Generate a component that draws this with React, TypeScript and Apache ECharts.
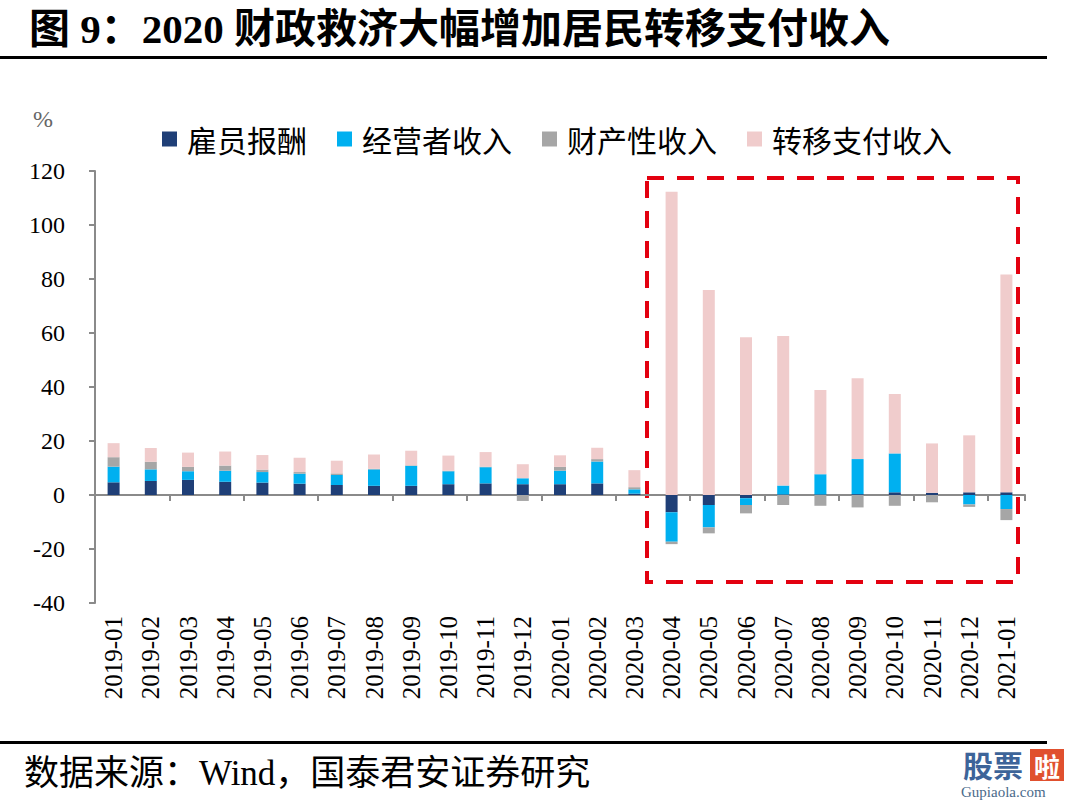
import React, { useEffect, useRef } from "react";
import * as echarts from "echarts";

const categories = [
  "2019-01", "2019-02", "2019-03", "2019-04", "2019-05", "2019-06", "2019-07", "2019-08",
  "2019-09", "2019-10", "2019-11", "2019-12", "2020-01", "2020-02", "2020-03", "2020-04",
  "2020-05", "2020-06", "2020-07", "2020-08", "2020-09", "2020-10", "2020-11", "2020-12", "2021-01",
];
const employeeComp = [4.7, 5.2, 5.6, 4.9, 4.6, 4.2, 3.7, 3.4, 3.4, 4.0, 4.3, 4.0, 4.0, 4.3, 0.5, -6.4, -3.7, -1.2, 0.2, 0.2, 0.3, 1.0, 0.8, 1.0, 1.0];
const businessIncome = [5.8, 4.3, 3.2, 4.1, 3.9, 3.7, 3.7, 6.1, 7.4, 4.8, 6.0, 2.2, 5.0, 8.1, 1.6, -10.9, -8.3, -2.5, 3.3, 7.5, 13.0, 14.4, 0, -3.5, -5.2];
const propertyIncome = [3.5, 2.8, 1.6, 1.9, 0.9, 0.6, 0.6, 0.2, 0.2, 0.2, 0.2, -2.2, 1.4, 0.9, 0.8, -0.9, -2.2, -3.1, -3.7, -4.0, -4.6, -4.0, -2.7, -0.9, -4.1];
const transferIncome = [5.2, 5.1, 5.3, 5.2, 5.4, 5.3, 4.7, 5.3, 5.4, 5.6, 5.4, 5.2, 4.3, 4.2, 6.3, 112.3, 75.9, 58.4, 55.4, 31.2, 29.9, 22.0, 18.3, 21.1, 80.7];
const seriesNames = ["雇员报酬", "经营者收入", "财产性收入", "转移支付收入"];
const seriesColors = ["#1F3F77", "#00B0F0", "#A6A6A6", "#F0CCCC"];

const titleText = "图 9：2020 财政救济大幅增加居民转移支付收入";
const sourceText = "数据来源：Wind，国泰君安证券研究";

const SERIF = "Liberation Serif, Noto Sans CJK SC, serif";
const NUM = "Liberation Serif";
const CJK = "Noto Sans CJK SC, sans-serif";

export default function App() {
  const ref = useRef<HTMLDivElement>(null);
  useEffect(() => {
    if (!ref.current) return;
    const chart = echarts.init(ref.current, null, { renderer: "svg" });
    const data = [employeeComp, businessIncome, propertyIncome, transferIncome];
    chart.setOption({
      animation: false,
      backgroundColor: "#fff",
      title: {
        text: titleText,
        left: 24,
        top: 3,
        textStyle: { fontSize: 41, fontWeight: "bold", fontFamily: SERIF, color: "#000" },
      },
      legend: {
        data: seriesNames,
        left: 157,
        top: 119,
        icon: "rect",
        itemWidth: 15,
        itemHeight: 15,
        itemGap: 30,
        textStyle: { fontSize: 30, fontFamily: CJK, color: "#000", padding: [0, 0, 0, 5] },
      },
      grid: { left: 95, right: 55, top: 171, bottom: 198 },
      xAxis: [
        {
          type: "category",
          data: categories,
          axisLine: { onZero: true, lineStyle: { color: "#8a8a8a", width: 2 } },
          axisTick: { show: true, length: 6, lineStyle: { color: "#8a8a8a", width: 2 } },
          axisLabel: { show: false },
        },
        {
          type: "category",
          data: categories,
          position: "bottom",
          axisLine: { show: false, onZero: false },
          axisTick: { show: false },
          axisLabel: {
            rotate: 90,
            margin: 13,
            fontSize: 25,
            fontFamily: NUM,
            color: "#000",
            interval: 0,
          },
        },
      ],
      yAxis: {
        type: "value",
        min: -40,
        max: 120,
        interval: 20,
        splitLine: { show: false },
        axisLine: { show: true, lineStyle: { color: "#8a8a8a", width: 2 } },
        axisTick: { show: true, length: 6, lineStyle: { color: "#8a8a8a", width: 2 } },
        axisLabel: { fontSize: 24, fontFamily: NUM, color: "#000", margin: 30 },
      },
      series: seriesNames.map((name, i) => ({
        name,
        type: "bar",
        stack: "total",
        xAxisIndex: 0,
        barWidth: 12,
        itemStyle: { color: seriesColors[i] },
        data: data[i],
      })),
      graphic: [
        { type: "rect", shape: { x: 0, y: 56, width: 1047, height: 3 }, style: { fill: "#000" }, silent: true },
        { type: "rect", shape: { x: 0, y: 741, width: 1047, height: 3 }, style: { fill: "#000" }, silent: true },
        {
          type: "text",
          x: 33,
          y: 119,
          style: { text: "%", fontSize: 24, fontFamily: NUM, fill: "#666", textVerticalAlign: "middle" },
        },
        {
          type: "rect",
          shape: { x: 647, y: 178, width: 371, height: 404 },
          style: { fill: "none", stroke: "#E3000F", lineWidth: 4, lineDash: [17, 13] },
          silent: true,
        },
        {
          type: "text",
          x: 24,
          y: 773,
          style: { text: sourceText, fontSize: 35, fontFamily: SERIF, fill: "#000", textVerticalAlign: "middle" },
        },
        {
          type: "text",
          x: 963,
          y: 764,
          style: { text: "股票", fontSize: 30, fontWeight: "bold", fontFamily: CJK, fill: "#3D6499", textVerticalAlign: "middle" },
        },
        { type: "rect", shape: { x: 1030, y: 749, width: 34, height: 32 }, style: { fill: "#E0502E" } },
        {
          type: "text",
          x: 1047,
          y: 765,
          style: { text: "啦", fontSize: 26, fontWeight: "bold", fontFamily: CJK, fill: "#fff", textAlign: "center", textVerticalAlign: "middle" },
        },
        {
          type: "text",
          x: 961,
          y: 792,
          style: { text: "Gupiaola.com", fontSize: 15, fontFamily: NUM, fill: "#4A6A8A", textVerticalAlign: "middle" },
        },
      ],
    });
    return () => chart.dispose();
  }, []);
  return (
    <div
      ref={ref}
      style={{ position: "fixed", left: 0, top: 0, width: 1080, height: 801, background: "#fff" }}
    />
  );
}
